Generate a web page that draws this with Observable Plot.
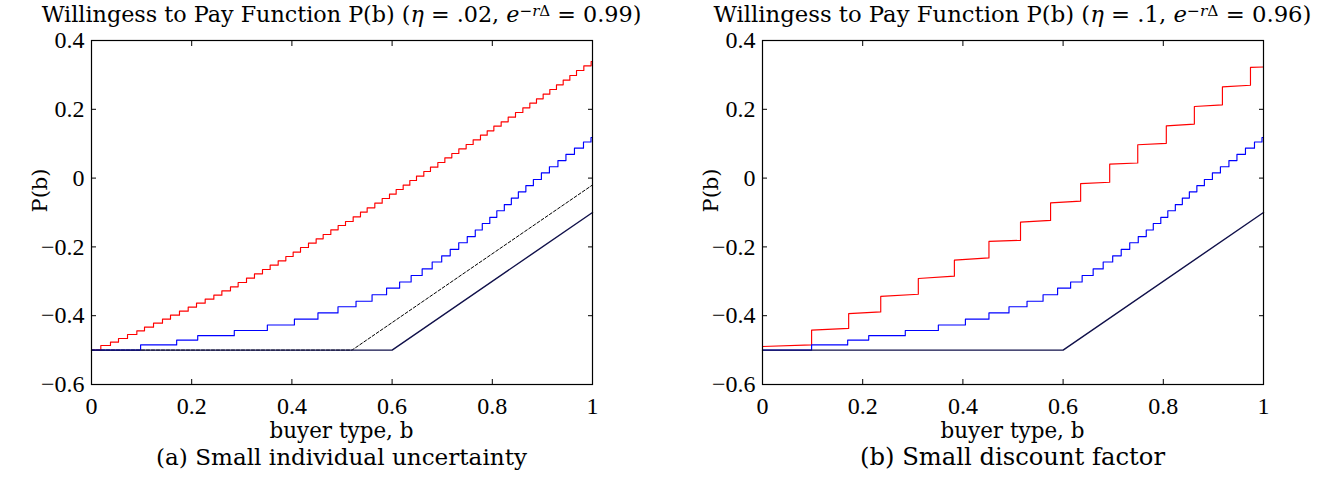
<!DOCTYPE html>
<html><head><meta charset="utf-8">
<script src="https://cdn.jsdelivr.net/npm/d3@7"></script>
<script src="https://cdn.jsdelivr.net/npm/@observablehq/plot@0.6"></script>
<style>
body{margin:0;background:#fff;font-family:"DejaVu Serif",serif;color:#000;}
#wrap{position:relative;width:1330px;height:480px;overflow:hidden;}
.panel{position:absolute;top:0;width:665px;height:480px;}
.title{position:absolute;top:4px;left:0;font-size:22px;line-height:20px;white-space:nowrap;text-align:center;}
.title sup{font-size:0.68em;line-height:0;vertical-align:0.42em;}
.svgbox{position:absolute;top:28px;left:0;}
.xlab{position:absolute;top:418px;left:0;font-size:22px;line-height:26px;text-align:center;white-space:nowrap;}
.cap{position:absolute;top:444px;left:0;font-size:22px;line-height:26px;text-align:center;white-space:nowrap;}
</style></head>
<body><div id="wrap"></div>
<script>
const xTicks = [0, 0.2, 0.4, 0.6, 0.8, 1];
const yTicks = [-0.6, -0.4, -0.2, 0, 0.2, 0.4];

// Solid black kinked line (both panels)
const baseB = [0, 0.6, 1];
const baseP = [-0.5, -0.5, -0.1];
// Dashed black kinked line (left panel)
const dashB = [0, 0.52, 1];
const dashP = [-0.5, -0.5, -0.02];

// Blue step function (same in both panels): jump position and level after jump
const blueB = [0, 0.098, 0.170, 0.212, 0.285, 0.351, 0.405, 0.452, 0.492, 0.528, 0.560, 0.589, 0.615, 0.638, 0.660, 0.680, 0.699, 0.716, 0.733, 0.750, 0.766, 0.780, 0.795, 0.809, 0.824, 0.838, 0.852, 0.867, 0.882, 0.898, 0.914, 0.931, 0.947, 0.964, 0.982, 0.997, 1];
const blueP = [-0.5, -0.485, -0.471, -0.458, -0.443, -0.427, -0.410, -0.392, -0.374, -0.358, -0.339, -0.320, -0.302, -0.283, -0.264, -0.244, -0.226, -0.207, -0.188, -0.170, -0.151, -0.132, -0.114, -0.095, -0.077, -0.058, -0.040, -0.022, -0.004, 0.015, 0.033, 0.051, 0.069, 0.087, 0.105, 0.118, 0.118];

// Red step function, left panel (eta = .02)
const redLB = [0, 0.0186, 0.0379, 0.0539, 0.0719, 0.0905, 0.1058, 0.1238, 0.1417, 0.1577, 0.1756, 0.1930, 0.2096, 0.2269, 0.2442, 0.2602, 0.2774, 0.2927, 0.3094, 0.3253, 0.3413, 0.3566, 0.3726, 0.3879, 0.4025, 0.4172, 0.4331, 0.4484, 0.4624, 0.4777, 0.4923, 0.5070, 0.5223, 0.5369, 0.5502, 0.5655, 0.5802, 0.5948, 0.6081, 0.6221, 0.6354, 0.6487, 0.6633, 0.6766, 0.6913, 0.7053, 0.7192, 0.7332, 0.7478, 0.7618, 0.7764, 0.7898, 0.8031, 0.8177, 0.8317, 0.8463, 0.8610, 0.8749, 0.8882, 0.9015, 0.9148, 0.9281, 0.9415, 0.9548, 0.9681, 0.9827, 0.9973, 1];
const redLP = [-0.5, -0.4866, -0.4769, -0.4663, -0.4547, -0.4440, -0.4333, -0.4217, -0.4101, -0.3984, -0.3868, -0.3752, -0.3636, -0.3520, -0.3403, -0.3277, -0.3161, -0.3035, -0.2909, -0.2783, -0.2657, -0.2531, -0.2405, -0.2279, -0.2153, -0.2017, -0.1891, -0.1765, -0.1640, -0.1504, -0.1378, -0.1262, -0.1126, -0.0990, -0.0864, -0.0729, -0.0593, -0.0467, -0.0331, -0.0205, -0.0070, 0.0056, 0.0192, 0.0318, 0.0453, 0.0589, 0.0715, 0.0851, 0.0977, 0.1112, 0.1248, 0.1374, 0.1510, 0.1636, 0.1771, 0.1907, 0.2043, 0.2178, 0.2304, 0.2440, 0.2576, 0.2711, 0.2847, 0.2983, 0.3128, 0.3264, 0.3390, 0.3395];

// Red step function, right panel (eta = .1): jump positions, level just before and just after each jump
const redRStart = [0, -0.4895];
const redRJumpB = [0.098, 0.172, 0.236, 0.311, 0.383, 0.452, 0.515, 0.575, 0.635, 0.693, 0.749, 0.806, 0.862, 0.918, 0.974];
const redRLow   = [-0.4847, -0.437, -0.389, -0.3375, -0.285, -0.232, -0.181, -0.123, -0.067, -0.012, 0.044, 0.101, 0.157, 0.213, 0.270];
const redRHigh  = [-0.442, -0.394, -0.344, -0.292, -0.2386, -0.184, -0.128, -0.072, -0.016, 0.0405, 0.097, 0.152, 0.208, 0.265, 0.322];
const redREnd = [1, 0.323];

const zip = (bs, ps) => bs.map((b, i) => ({b, p: ps[i]}));
const blue = zip(blueB, blueP);
const redL = zip(redLB, redLP);
const base = zip(baseB, baseP);
const dash = zip(dashB, dashP);
const redR = [{b: redRStart[0], p: redRStart[1]}];
redRJumpB.forEach((b, i) => { redR.push({b, p: redRLow[i]}); redR.push({b, p: redRHigh[i]}); });
redR.push({b: redREnd[0], p: redREnd[1]});

const fmt = d3.format("~g");
const blank = () => "";

function makePlot(ml, mr, extraMarks) {
  return Plot.plot({
    width: 665, height: 392,
    marginLeft: ml, marginRight: mr, marginTop: 12, marginBottom: 36,
    x: {domain: [0, 1]},
    y: {domain: [-0.6, 0.4]},
    style: {fontFamily: "'Liberation Serif', serif", fontSize: "24px", color: "black", background: "white", overflow: "visible"},
    marks: [
      ...extraMarks,
      Plot.line(blue, {x: "b", y: "p", stroke: "#0000ff", strokeWidth: 1.15, curve: "step-after"}),
      Plot.line(base, {x: "b", y: "p", stroke: "#10104a", strokeWidth: 1.4}),
      Plot.frame({stroke: "black", strokeWidth: 1.2}),
      Plot.axisX({ticks: xTicks, tickSize: 0, tickPadding: 12, tickFormat: fmt, label: null}),
      Plot.axisY({ticks: yTicks, tickSize: 0, tickPadding: 7, tickFormat: fmt, label: null}),
      Plot.axisX({anchor: "bottom", ticks: xTicks, tickSize: 5, dy: -5, tickFormat: blank, label: null}),
      Plot.axisX({anchor: "top", ticks: xTicks, tickSize: 5, dy: 5, tickFormat: blank, label: null}),
      Plot.axisY({anchor: "left", ticks: yTicks, tickSize: 5, dx: 5, tickFormat: blank, label: null}),
      Plot.axisY({anchor: "right", ticks: yTicks, tickSize: 5, dx: -5, tickFormat: blank, label: null}),
      Plot.text(["P(b)"], {text: d => d, frameAnchor: "left", rotate: -90, dx: -51, fontSize: 21, fontFamily: "'DejaVu Serif', serif"})
    ]
  });
}

const leftMarks = [
  Plot.line(redL, {x: "b", y: "p", stroke: "#ff0000", strokeWidth: 1.15, curve: "step-after"}),
  Plot.line(dash, {x: "b", y: "p", stroke: "#000", strokeWidth: 1, strokeDasharray: "3,2"})
];
const rightMarks = [
  Plot.line(redR, {x: "b", y: "p", stroke: "#ff0000", strokeWidth: 1.15})
];

const panels = [
  {left: 0, ml: 91, mr: 73, center: 341.5, marks: leftMarks,
   title: 'Willingess to Pay Function P(b) (<i>η</i> = .02, <i>e</i><sup>−<i>r</i>Δ</sup> = 0.99)',
   cap: '(a) Small individual uncertainty', tw: 600, xw: 144, cw: 371},
  {left: 665, ml: 97, mr: 67, center: 347.5, marks: rightMarks,
   title: 'Willingess to Pay Function P(b) (<i>η</i> = .1, <i>e</i><sup>−<i>r</i>Δ</sup> = 0.96)',
   cap: '(b) Small discount factor', tw: 598, xw: 144, cw: 305}
];

function fit(el, target) {
  const span = el.querySelector("span");
  const w = span.getBoundingClientRect().width;
  const fs = parseFloat(getComputedStyle(el).fontSize);
  el.style.fontSize = (fs * target / w).toFixed(2) + "px";
}

const wrap = document.getElementById("wrap");
for (const p of panels) {
  const div = document.createElement("div");
  div.className = "panel";
  div.style.left = p.left + "px";
  const w = 2 * p.center;
  div.innerHTML = `<div class="title" style="width:${w}px"><span>${p.title}</span></div>
    <div class="svgbox"></div>
    <div class="xlab" style="width:${w}px"><span>buyer type, b</span></div>
    <div class="cap" style="width:${w}px"><span>${p.cap}</span></div>`;
  div.querySelector(".svgbox").appendChild(makePlot(p.ml, p.mr, p.marks));
  wrap.appendChild(div);
  fit(div.querySelector(".title"), p.tw);
  fit(div.querySelector(".xlab"), p.xw);
  fit(div.querySelector(".cap"), p.cw);
}
</script></body></html>
